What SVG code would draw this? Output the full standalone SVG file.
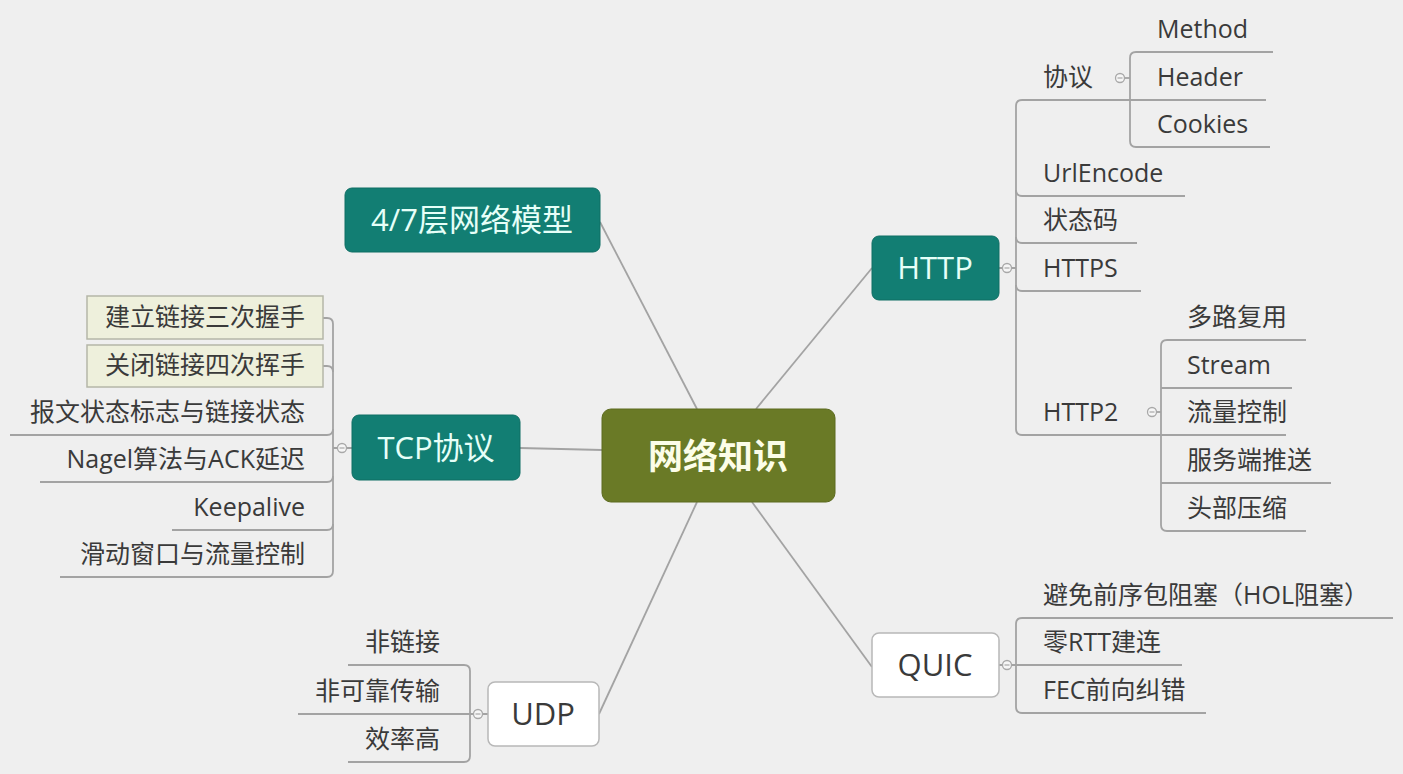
<svg xmlns="http://www.w3.org/2000/svg" width="1403" height="774" viewBox="0 0 1403 774">
<style>
.t{font-family:"Open Sans","Noto Sans CJK SC",sans-serif;font-size:25px;fill:#3a3a3a}
.e{text-anchor:end}
.n{font-family:"Open Sans","Noto Sans CJK SC",sans-serif;font-size:31px;text-anchor:middle}
.teal{fill:#127e73;stroke:#0e6e64;stroke-width:1}
.tw{fill:#e6fff8}
.wb{fill:#ffffff;stroke:#b8b8b8;stroke-width:1.5}
.tk{fill:#3a3a3a}
.hl{fill:#eef0dc;stroke:#b5b7a8;stroke-width:1.5}
.ln{fill:none;stroke:#a3a3a3;stroke-width:1.8}
.c{fill:#f6f6f6;stroke:#a8a8a8;stroke-width:1.3}
.m{stroke:#a8a8a8;stroke-width:1.2}
</style>
<rect width="1403" height="774" fill="#efefef"/>
<g id="connectors">
<path class="ln" d="M600 222 L697 409"/>
<path class="ln" d="M756 409 L872 268"/>
<path class="ln" d="M520 448 L602 450"/>
<path class="ln" d="M599 714 L697 502"/>
<path class="ln" d="M752 502 L872 667"/>
<!-- HTTP -->
<path class="ln" d="M999 268 H1003 M1011 268 H1016"/>
<path class="ln" d="M1116 100 H1022 Q1016 100 1016 106 V429 Q1016 435 1022 435 H1286"/>
<path class="ln" d="M1016 190 Q1016 196 1022 196 H1185"/>
<path class="ln" d="M1016 237 Q1016 243 1022 243 H1137"/>
<path class="ln" d="M1016 285 Q1016 291 1022 291 H1141"/>
<path class="ln" d="M1116 100 H1266"/>
<path class="ln" d="M1273 52 H1136 Q1130 52 1130 58 V141 Q1130 147 1136 147 H1270"/>
<path class="ln" d="M1124 78 H1130"/>
<path class="ln" d="M1306 340 H1167 Q1161 340 1161 346 V525 Q1161 531 1167 531 H1306"/>
<path class="ln" d="M1161 388 H1292"/>
<path class="ln" d="M1161 483 H1331"/>
<path class="ln" d="M1156 412 H1161"/>
<!-- QUIC -->
<path class="ln" d="M999 665 H1003 M1011 665 H1182"/>
<path class="ln" d="M1393 618 H1022 Q1016 618 1016 624 V707 Q1016 713 1022 713 H1206"/>
<!-- TCP -->
<path class="ln" d="M323 318 H327 Q333 318 333 324 V571 Q333 577 327 577 H60"/>
<path class="ln" d="M323 366 H327 Q333 366 333 372"/>
<path class="ln" d="M10 435 H327 Q333 435 333 429"/>
<path class="ln" d="M40 482 H327 Q333 482 333 476"/>
<path class="ln" d="M172 530 H327 Q333 530 333 524"/>
<path class="ln" d="M333 448 H338 M346 448 H352"/>
<!-- UDP -->
<path class="ln" d="M348 665 H464 Q470 665 470 671 V756 Q470 762 464 762 H348"/>
<path class="ln" d="M298 714 H470 M470 714 H474 M482 714 H488"/>
</g>
<g id="collapse-markers">
<circle class="c" cx="1007" cy="268" r="4.5"/><path class="m" d="M1004.5 268 H1009.5"/>
<circle class="c" cx="1120" cy="78" r="4.5"/><path class="m" d="M1117.5 78 H1122.5"/>
<circle class="c" cx="1152" cy="412" r="4.5"/><path class="m" d="M1149.5 412 H1154.5"/>
<circle class="c" cx="1007" cy="665" r="4.5"/><path class="m" d="M1004.5 665 H1009.5"/>
<circle class="c" cx="342" cy="448" r="4.5"/><path class="m" d="M339.5 448 H344.5"/>
<circle class="c" cx="478" cy="714" r="4.5"/><path class="m" d="M475.5 714 H480.5"/>
</g>
<g id="center">
<rect x="602" y="409" width="233" height="93" rx="9" fill="#6a7a26" stroke="#5c6a1f"/>
<text x="718" y="469" class="n" style="font-size:35px;font-weight:bold;fill:#fcfde8">网络知识</text>
</g>
<g id="model">
<rect class="teal" x="345" y="188" width="255" height="64" rx="7"/>
<text x="472" y="231" class="n tw">4/7层网络模型</text>
</g>
<g id="http">
<rect class="teal" x="872" y="236" width="127" height="64" rx="7"/>
<text x="935" y="279" class="n tw">HTTP</text>
</g>
<g id="tcp">
<rect class="teal" x="352" y="415" width="168" height="65" rx="7"/>
<text x="436" y="459" class="n tw">TCP协议</text>
</g>
<g id="quic">
<rect class="wb" x="872" y="633" width="127" height="64" rx="7"/>
<text x="935" y="676" class="n tk">QUIC</text>
</g>
<g id="udp">
<rect class="wb" x="488" y="682" width="111" height="64" rx="7"/>
<text x="543" y="725" class="n tk">UDP</text>
</g>
<g id="http-children">
<text class="t" x="1043" y="86">协议</text>
<text class="t" x="1157" y="38">Method</text>
<text class="t" x="1157" y="86">Header</text>
<text class="t" x="1157" y="133">Cookies</text>
<text class="t" x="1043" y="182">UrlEncode</text>
<text class="t" x="1043" y="229">状态码</text>
<text class="t" x="1043" y="277">HTTPS</text>
<text class="t" x="1043" y="421">HTTP2</text>
<text class="t" x="1187" y="326">多路复用</text>
<text class="t" x="1187" y="374">Stream</text>
<text class="t" x="1187" y="421">流量控制</text>
<text class="t" x="1187" y="469">服务端推送</text>
<text class="t" x="1187" y="517">头部压缩</text>
</g>
<g id="quic-children">
<text class="t" x="1043" y="604">避免前序包阻塞（HOL阻塞）</text>
<text class="t" x="1043" y="651">零RTT建连</text>
<text class="t" x="1043" y="699">FEC前向纠错</text>
</g>
<g id="tcp-children">
<rect class="hl" x="87" y="296" width="236" height="43"/>
<text class="t e" x="305" y="326">建立链接三次握手</text>
<rect class="hl" x="87" y="345" width="236" height="42"/>
<text class="t e" x="305" y="374">关闭链接四次挥手</text>
<text class="t e" x="305" y="421">报文状态标志与链接状态</text>
<text class="t e" x="305" y="468">Nagel算法与ACK延迟</text>
<text class="t e" x="305" y="516">Keepalive</text>
<text class="t e" x="305" y="563">滑动窗口与流量控制</text>
</g>
<g id="udp-children">
<text class="t e" x="440" y="651">非链接</text>
<text class="t e" x="440" y="700">非可靠传输</text>
<text class="t e" x="440" y="748">效率高</text>
</g>
</svg>
